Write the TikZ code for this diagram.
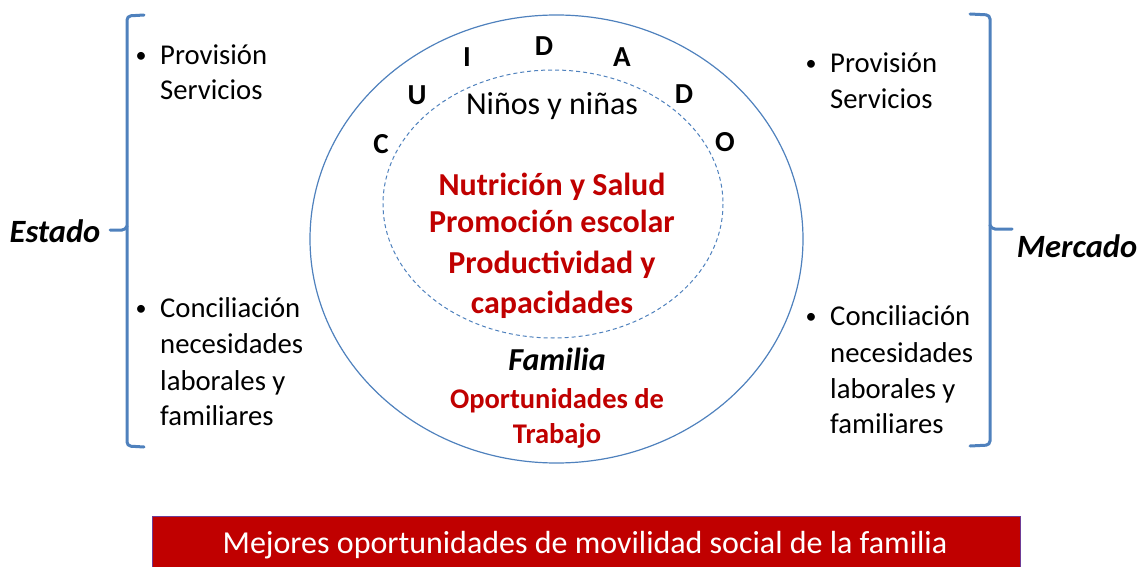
\documentclass[tikz,border=0pt]{standalone}
\usepackage{fontspec}
\setmainfont{Carlito}
\definecolor{bblue}{RGB}{79,129,189}
\definecolor{dred}{RGB}{192,0,0}
\definecolor{bpurple}{RGB}{110,60,150}
\tikzset{
  bodytxt/.style={anchor=base west, inner sep=0pt, font=\fontsize{28.7}{34}\selectfont},
  bul/.style={anchor=base, inner sep=0pt, font=\fontsize{22}{34}\selectfont},
  redtxt/.style={anchor=base, inner sep=0pt, text=dred, font=\fontsize{32}{37}\selectfont\bfseries},
  redsmall/.style={anchor=base, inner sep=0pt, text=dred, font=\fontsize{28.5}{32}\selectfont\bfseries},
  letter/.style={inner sep=0pt, font=\fontsize{29}{30}\selectfont\bfseries},
  sidetitle/.style={anchor=base, inner sep=0pt, font=\fontsize{32.5}{37}\selectfont\bfseries\itshape},
  bracket/.style={draw=bblue, line width=3pt, rounded corners=4pt, line cap=round},
  ring/.style={draw=bblue, line width=1.2pt},
}
\begin{document}
\begin{tikzpicture}[x=1pt,y=-1pt]
\useasboundingbox (0,0) rectangle (1141,567);

% brackets
\draw[bracket] (144,15) -- (127,16) -- (127,446) -- (144,447);
\draw[bracket] (127,226) -- (126,230) -- (110,230);
\draw[bracket] (970,14) -- (990,15) -- (990,445) -- (970,446);
\draw[bracket] (990,225) -- (991,229) -- (1012,229);

% side titles
\node[sidetitle] (estado) at (55,242) {Estado};
\node[sidetitle] (mercado) at (1077,257) {Mercado};

% left bullets
\node[bul] (lb1) at (141,63) {•};
\node[bodytxt] (l1) at (160,65) {Provisión};
\node[bodytxt] (l2) at (160,100) {Servicios};
\node[bul] (lb2) at (141,315) {•};
\node[bodytxt] (l3) at (160,317) {Conciliación};
\node[bodytxt] (l4) at (160,353) {necesidades};
\node[bodytxt] (l5) at (160,390) {laborales y};
\node[bodytxt] (l6) at (160,425) {familiares};

% right bullets
\node[bul] (rb1) at (811,71) {•};
\node[bodytxt] (r1) at (830,73) {Provisión};
\node[bodytxt] (r2) at (830,109) {Servicios};
\node[bul] (rb2) at (811,323) {•};
\node[bodytxt] (r3) at (830,325) {Conciliación};
\node[bodytxt] (r4) at (830,362) {necesidades};
\node[bodytxt] (r5) at (830,398) {laborales y};
\node[bodytxt] (r6) at (830,433) {familiares};

% ellipses
\draw[ring] (556.5,239) ellipse [x radius=246.5, y radius=224];
\draw[ring, line width=1pt, dash pattern=on 4pt off 3pt] (553,204) ellipse [x radius=170, y radius=134];

% CUIDADO
\node[letter] (c1) at (381,144) {C};
\node[letter] (c2) at (417,95) {U};
\node[letter] (c3) at (467,57) {I};
\node[letter] (c4) at (544,46) {D};
\node[letter] (c5) at (622,57) {A};
\node[letter] (c6) at (684,94) {D};
\node[letter] (c7) at (725,142) {O};

% inner texts
\node[anchor=base, inner sep=0pt, font=\fontsize{32}{36}\selectfont] (ninos) at (552,115) {Niños y niñas};
\node[redtxt] (t1) at (552,195) {Nutrición y Salud};
\node[redtxt] (t2) at (552,233) {Promoción escolar};
\node[redtxt] (t3) at (552,273) {Productividad y};
\node[redtxt] (t4) at (552,313) {capacidades};
\node[anchor=base, inner sep=0pt, font=\fontsize{32}{36}\selectfont\bfseries\itshape] (fam) at (557,370) {Familia};
\node[redsmall] (o1) at (557,408) {Oportunidades de};
\node[redsmall] (o2) at (557,443) {Trabajo};

% banner
\draw[fill=dred, draw=bpurple, line width=0.8pt] (152,516) rectangle (1020,575);
\node[anchor=center, inner sep=0pt, text=white, font=\fontsize{32}{36}\selectfont] (banner) at (585,545) {Mejores oportunidades de movilidad social de la familia};
\end{tikzpicture}
\end{document}
